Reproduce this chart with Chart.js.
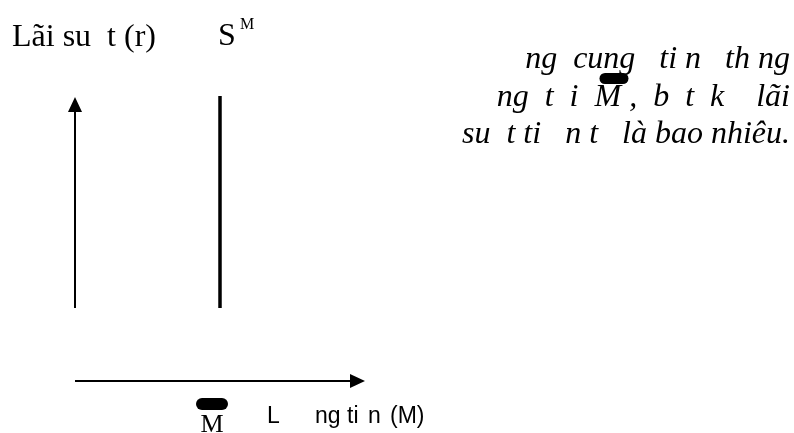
<!DOCTYPE html>
<html>
<head>
<meta charset="utf-8">
<script src="https://cdn.jsdelivr.net/npm/chart.js@4/dist/chart.umd.min.js"></script>
<style>
  html, body { margin:0; padding:0; background:#fff; }
  canvas { display:block; }
</style>
</head>
<body>
<canvas id="chart-money" width="794" height="433"></canvas>
<script>
// Cung tiền cố định tại M̄
const moneyRange   = [0, 10];      // trục lượng tiền
const rateRange    = [0, 10];      // trục lãi suất
const moneySupply  = 5;            // M̄
const supplyRates  = [0, 10];      // đường S^M đi hết trục r

// Chữ
const yTitle   = 'Lãi su  t (r)';
const smMain   = 'S';
const smSup    = 'M';
const barLabel = 'M';
const xTitle   = [['L',267],['ng',315],['ti',347],['n',368],['(M)',390]];
// mỗi dòng: các mảnh, mảnh 'M' có gạch đậm phía trên
const noteLines = [
  ['ng  cung   ti n   th ng'],
  ['ng  t  i  ', 'M', ' ,  b  t  k    lãi'],
  ['su  t ti   n t   là bao nhiêu.']
];
const noteBase = [68, 106, 143];

const SERIF = '"Liberation Serif", "Times New Roman", serif';
const SANS  = '"Liberation Sans", Arial, sans-serif';

// thanh đen trên chữ M (gạch ngang bị đậm)
function blob(ctx, x, y, w, h){
  const r = h/2;
  ctx.beginPath();
  ctx.moveTo(x+r, y);
  ctx.lineTo(x+w-r, y);
  ctx.arc(x+w-r, y+r, r, -Math.PI/2, Math.PI/2);
  ctx.lineTo(x+r, y+h);
  ctx.arc(x+r, y+r, r, Math.PI/2, Math.PI*1.5);
  ctx.closePath();
  ctx.fill();
}

function arrowHead(ctx, tipX, tipY, dir, len, half){
  ctx.beginPath();
  if (dir==='up'){
    ctx.moveTo(tipX, tipY);
    ctx.lineTo(tipX-half, tipY+len);
    ctx.lineTo(tipX+half, tipY+len);
  } else {
    ctx.moveTo(tipX, tipY);
    ctx.lineTo(tipX-len, tipY-half);
    ctx.lineTo(tipX-len, tipY+half);
  }
  ctx.closePath();
  ctx.fill();
}

const axesPlugin = {
  id:'axesArrows',
  afterDatasetsDraw(chart){
    const {ctx, chartArea:a, scales} = chart;
    ctx.save();
    ctx.fillStyle = '#000';
    ctx.strokeStyle = '#000';
    ctx.lineWidth = 2;

    // trục r
    const yTop = scales.y.getPixelForValue(rateRange[1]) + 1;
    ctx.beginPath();
    ctx.moveTo(a.left, a.bottom);
    ctx.lineTo(a.left, yTop + 12);
    ctx.stroke();
    arrowHead(ctx, a.left, yTop, 'up', 15, 7);

    // trục M (nằm thấp hơn)
    const yAx = a.bottom + 73;
    const xEnd = scales.x.getPixelForValue(moneyRange[1]);
    ctx.beginPath();
    ctx.moveTo(a.left, yAx);
    ctx.lineTo(xEnd - 12, yAx);
    ctx.stroke();
    arrowHead(ctx, xEnd, yAx, 'right', 15, 7);

    ctx.textBaseline = 'alphabetic';
    ctx.textAlign = 'left';

    // nhãn trục r
    ctx.font = `32px ${SERIF}`;
    ctx.fillText(yTitle, 12, 46);

    // nhãn S^M
    const xs = scales.x.getPixelForValue(moneySupply);
    ctx.fillText(smMain, xs - 2, 45);
    ctx.font = `16px ${SERIF}`;
    ctx.fillText(smSup, xs + 20, 29);

    // M̄ dưới trục
    ctx.font = `26px ${SERIF}`;
    ctx.textAlign = 'center';
    ctx.fillText(barLabel, xs - 8, 432);
    blob(ctx, xs - 8 - 16, 398, 32, 12);

    // nhãn trục M
    ctx.textAlign = 'left';
    ctx.font = `23px ${SANS}`;
    xTitle.forEach(([t, x])=>ctx.fillText(t, x, 423));

    // ghi chú bên phải, canh lề phải
    ctx.font = `italic 32px ${SERIF}`;
    const right = 790;
    noteLines.forEach((parts, i)=>{
      const widths = parts.map(p=>ctx.measureText(p).width);
      let x = right - widths.reduce((s,w)=>s+w, 0);
      parts.forEach((p, j)=>{
        ctx.fillText(p, x, noteBase[i]);
        if (p==='M') blob(ctx, x + 5, noteBase[i] - 33, 29, 11);
        x += widths[j];
      });
    });
    ctx.restore();
  }
};

const el = document.getElementById('chart-money');
new Chart(el.getContext('2d'), {
  type:'scatter',
  data:{ datasets:[{
    label:'S^M',
    data: supplyRates.map(r=>({x:moneySupply, y:r})),
    showLine:true,
    borderColor:'#000',
    borderWidth:3.5,
    pointRadius:0,
    borderCapStyle:'butt'
  }]},
  options:{
    responsive:false,
    animation:false,
    layout:{ padding:{ left:75, top:96, right:429, bottom:125 } },
    plugins:{ legend:{display:false}, tooltip:{enabled:false} },
    scales:{
      x:{ type:'linear', display:false, min:moneyRange[0], max:moneyRange[1] },
      y:{ type:'linear', display:false, min:rateRange[0], max:rateRange[1] }
    }
  },
  plugins:[axesPlugin]
});
</script>
</body>
</html>
